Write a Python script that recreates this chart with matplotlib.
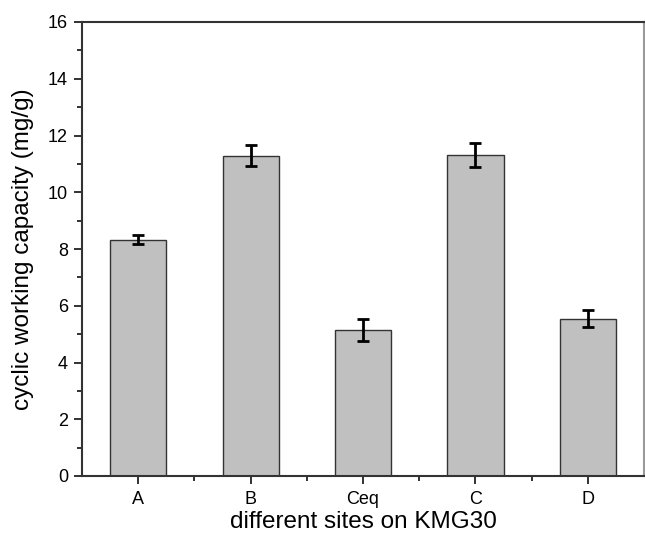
import matplotlib
matplotlib.use("Agg")
import matplotlib.pyplot as plt
from matplotlib.ticker import MultipleLocator, FixedLocator

plt.rcParams['font.family'] = ['Liberation Sans', 'DejaVu Sans']

sites = ["A", "B", "Ceq", "C", "D"]
capacity = [8.33, 11.29, 5.15, 11.31, 5.55]
capacity_err = [0.15, 0.36, 0.38, 0.41, 0.30]

fig = plt.figure(figsize=(6.45, 5.41), dpi=100)
ax = fig.add_axes([82 / 645, 1 - 476 / 541, 562 / 645, (476 - 22) / 541])

x = list(range(len(sites)))
ax.bar(x, capacity, width=0.5, color="#c0c0c0", edgecolor="#333333",
       linewidth=1.0, zorder=2)
ax.errorbar(x, capacity, yerr=capacity_err, fmt="none", ecolor="black",
            elinewidth=2.0, capsize=4, capthick=2.0, zorder=3)

ax.set_xlim(-0.5, 4.5)
ax.set_ylim(0, 16)
ax.set_xticks(x)
ax.set_xticklabels(sites)
ax.xaxis.set_minor_locator(FixedLocator([0.5, 1.5, 2.5, 3.5]))
ax.yaxis.set_major_locator(MultipleLocator(2))
ax.yaxis.set_minor_locator(MultipleLocator(1))

ax.tick_params(axis="both", which="major", direction="out", length=6,
               width=1.3, color="#222222", labelsize=13, pad=4)
ax.tick_params(axis="both", which="minor", direction="out", length=3.5,
               width=1.3, color="#222222")
ax.tick_params(axis="x", which="major", pad=5)

for side in ["left", "bottom", "top"]:
    ax.spines[side].set_linewidth(1.5)
    ax.spines[side].set_color("#333333")
ax.spines["right"].set_linewidth(1.5)
ax.spines["right"].set_color("#999999")

ax.set_ylabel("cyclic working capacity (mg/g)", fontsize=17.5, labelpad=10)
ax.set_xlabel("different sites on KMG30", fontsize=17.5, labelpad=2)

fig.savefig("out.png", dpi=100)
